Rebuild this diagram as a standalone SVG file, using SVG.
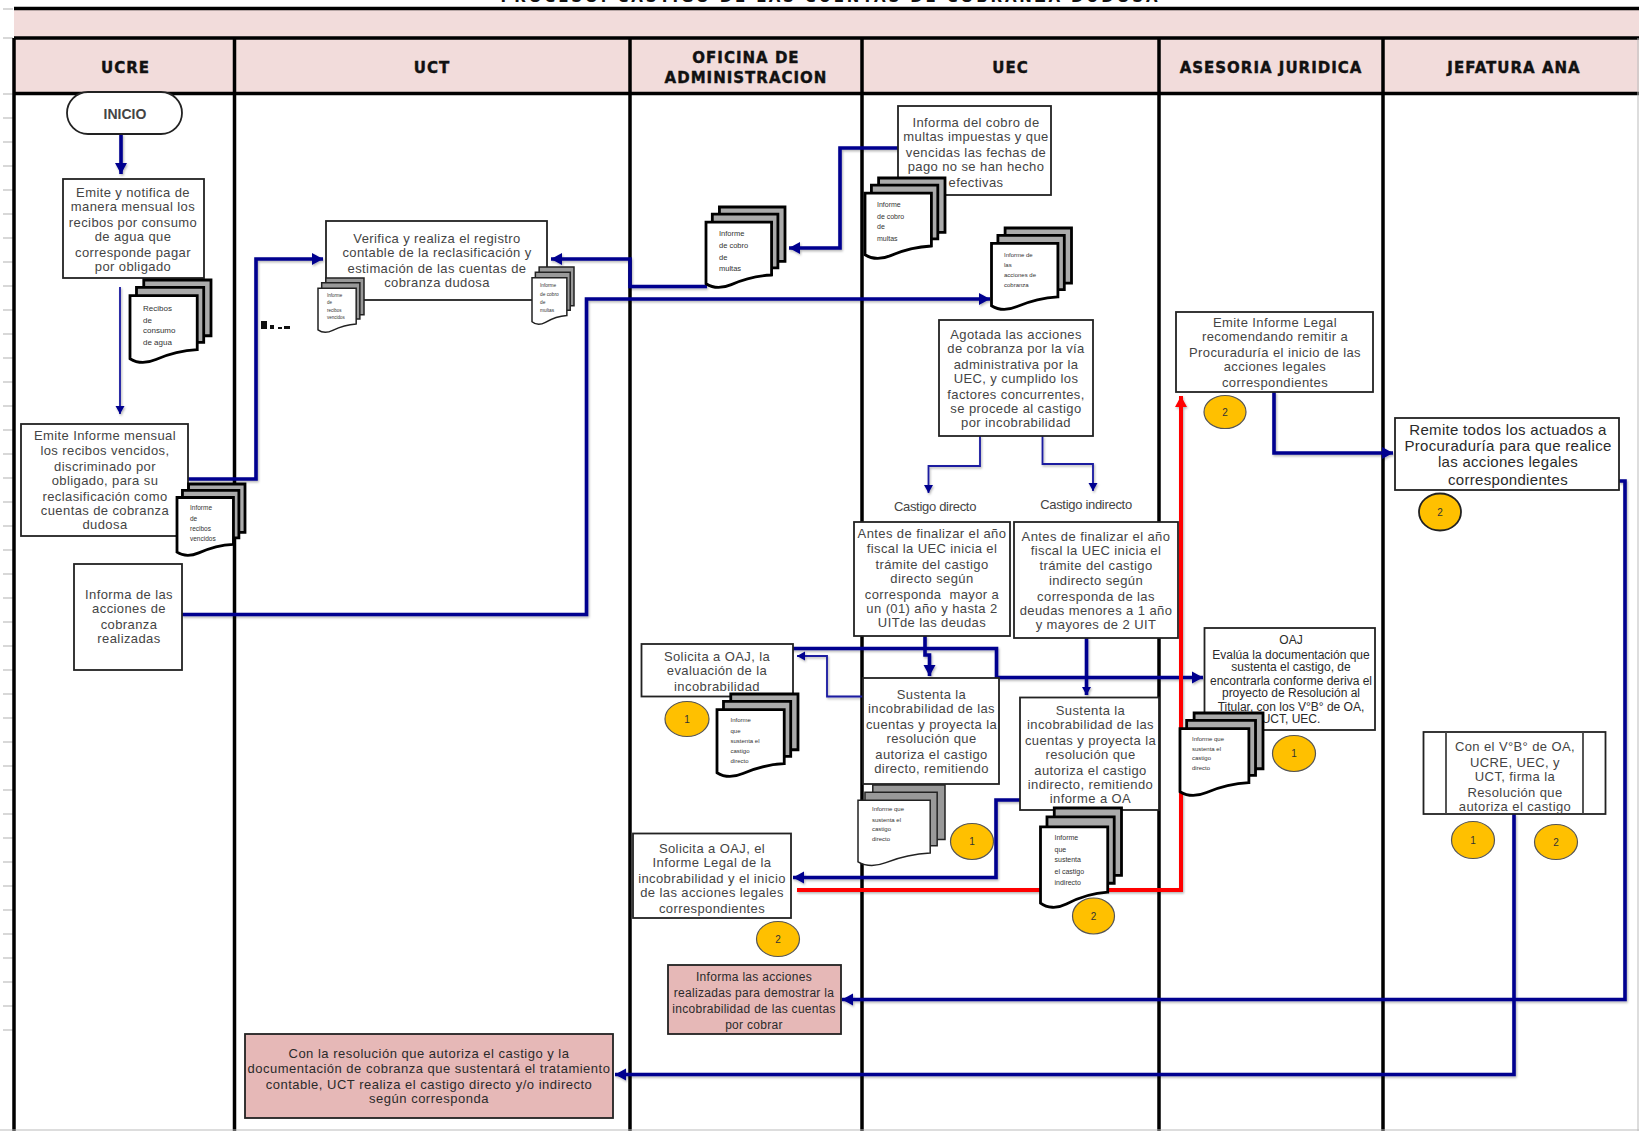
<svg xmlns="http://www.w3.org/2000/svg" xmlns:xlink="http://www.w3.org/1999/xlink" width="1639" height="1131" viewBox="0 0 1639 1131">
<style>
.lane{stroke:#000;stroke-width:3.5;fill:none}
.hdrband{fill:#f2dcdb}
.h{font-family:"DejaVu Sans",sans-serif;font-weight:bold;font-size:15px;letter-spacing:1px;fill:#111;stroke:#111;stroke-width:.4px;text-anchor:middle}
.box{fill:#fff;stroke:#222;stroke-width:1.8}
.pink{fill:#e6b8b7;stroke:#222;stroke-width:1.8}
.t{font-family:"Liberation Sans",Arial,sans-serif;font-size:13px;letter-spacing:.4px;fill:#444;text-anchor:middle}
.t2{font-size:15px;letter-spacing:.3px;fill:#2a2a2a}
.t3{font-size:12px;letter-spacing:.3px;fill:#2a2a2a}
.t4{font-size:12px;letter-spacing:0;fill:#2a2a2a}
.t5{font-size:13px;letter-spacing:.5px;fill:#2a2a2a}
.t6{font-size:13px;letter-spacing:-.3px}
.d{font-family:"Liberation Sans",Arial,sans-serif;fill:#333}
.c{fill:#ffc000;stroke:#555;stroke-width:1.2}
.cn{font-family:"Liberation Sans",Arial,sans-serif;font-size:10px;fill:#333;text-anchor:middle}
.docs{stroke:#000;stroke-width:2.8;fill:#aaa}
.docs2{stroke:#222;stroke-width:1.5;fill:#999}
.fl{fill:none;stroke:#00008f;stroke-width:3.6;stroke-linejoin:miter}
.th{fill:none;stroke:#1a1aa0;stroke-width:1.8}
.red{fill:none;stroke:#f00;stroke-width:4}
.tick{stroke:#ccc;stroke-width:1.5;fill:none}
</style>
<defs>
<marker id="a" markerUnits="userSpaceOnUse" markerWidth="14" markerHeight="16" refX="11" refY="7" orient="auto"><path d="M0,1 L11,7 L0,13 Z" fill="#00008f"/></marker>
<marker id="as" markerUnits="userSpaceOnUse" markerWidth="12" markerHeight="12" refX="8" refY="5" orient="auto"><path d="M0,0.5 L8,5 L0,9.5 Z" fill="#00008f"/></marker>
<marker id="ar" markerUnits="userSpaceOnUse" markerWidth="14" markerHeight="16" refX="11" refY="7" orient="auto"><path d="M0,1 L11,7 L0,13 Z" fill="#f00"/></marker>
<filter id="sh" x="-5%" y="-5%" width="110%" height="110%"><feDropShadow dx="1" dy="1.5" stdDeviation="1" flood-color="#000" flood-opacity=".3"/></filter>
<symbol id="doc" viewBox="0 0 100 100" preserveAspectRatio="none" overflow="visible">
<path vector-effect="non-scaling-stroke" d="M17,0 H100 V68 H17 Z"/>
<path vector-effect="non-scaling-stroke" d="M8,9 H91 V76 H8 Z"/>
<path vector-effect="non-scaling-stroke" fill="#fff" d="M0,19 H83 V85 C62,86 46,91 32,97 C20,102 8,101 0,96 Z"/>
</symbol>
</defs>
<g id="rule-ticks"><path class="tick" d="M3,9H13M3,38H13M3,94H13M3,118H13M3,142H13M3,166H13M3,190H13M3,214H13M3,238H13M3,262H13M3,286H13M3,310H13M3,334H13M3,358H13M3,382H13M3,406H13M3,430H13M3,454H13M3,478H13M3,502H13M3,526H13M3,550H13M3,574H13M3,598H13M3,622H13M3,646H13M3,670H13M3,694H13M3,718H13M3,742H13M3,766H13M3,790H13M3,814H13M3,838H13M3,862H13M3,886H13M3,910H13M3,934H13M3,958H13M3,982H13M3,1006H13M3,1030H13"/></g>
<g id="swimlanes">
<text x="829" y="2" font-family="DejaVu Sans, sans-serif" font-weight="bold" font-size="15" fill="#111" text-anchor="middle" textLength="657">PROCESO: CASTIGO DE LAS CUENTAS DE COBRANZA DUDOSA</text>
<rect class="hdrband" x="14" y="10" width="1625" height="27"/>
<rect class="hdrband" x="14" y="39" width="1625" height="54"/>
<path class="lane" d="M14,8.5H1639M14,38H1639M14,93.5H1639M14,38V1131M234.5,38V1131M630,38V1131M862,38V1131M1159,38V1131M1383,38V1131"/>
<path d="M0,1130H1639M1638,38V1131" stroke="#bbb" stroke-width="1" fill="none"/>
<text class="h" x="125.500" y="73">UCRE</text>
<text class="h" x="432" y="73">UCT</text>
<text class="h" x="746" y="63">OFICINA DE</text>
<text class="h" x="746" y="83">ADMINISTRACION</text>
<text class="h" x="1010.500" y="73">UEC</text>
<text class="h" x="1271" y="73">ASESORIA JURIDICA</text>
<text class="h" x="1514" y="73">JEFATURA ANA</text>
<path d="M261,321h6v8h-6zM270,325h4v4h-4zM278,327h4v2h-4zM284,326h6v3h-6z" fill="#111"/>
</g>
<g id="connectors" filter="url(#sh)">
<path class="fl" marker-end="url(#a)" d="M121,134V174"/>
<path class="th" marker-end="url(#as)" d="M120,287V414"/>
<path class="fl" marker-end="url(#a)" d="M188,479H256V259H323"/>
<path class="fl" marker-end="url(#a)" d="M707,286.500H630V259H551"/>
<path class="fl" marker-end="url(#a)" d="M898,148H840V248H789"/>
<path class="fl" marker-end="url(#a)" d="M182,614.500H586.500V299H990"/>
<path class="th" marker-end="url(#as)" d="M980,436V466H928.500V493"/>
<path class="th" marker-end="url(#as)" d="M1042.500,436V464H1093V491"/>
<path class="fl" marker-end="url(#a)" d="M925,636V655H929.500V676"/>
<path class="fl" marker-end="url(#as)" d="M1086.500,638V695"/>
<path class="fl" marker-end="url(#a)" d="M790,648.500H996.500V677.500H1203"/>
<path class="th" marker-end="url(#as)" d="M863,696.500H827V656H797"/>
<path class="fl" marker-end="url(#a)" d="M1020,800H996V877.500H793"/>
<path class="red" marker-end="url(#ar)" d="M797,890H1181V396"/>
<path class="fl" marker-end="url(#a)" d="M1274,392V453H1393"/>
<path class="fl" marker-end="url(#a)" d="M1619,481H1625V999.500H842"/>
<path class="fl" marker-end="url(#a)" d="M1514,814V1074.500H615"/>
</g>
<g id="n-inicio"><rect x="67" y="92" width="115" height="42" rx="21" ry="21" class="box"/><text class="t" x="125" y="119" font-weight="bold" style="font-size:14px;letter-spacing:0">INICIO</text></g>
<g id="n-emite"><rect class="box" x="63" y="179" width="141" height="99"/><text class="t"><tspan x="133" y="197">Emite y notifica de</tspan><tspan x="133" y="211">manera mensual los</tspan><tspan x="133" y="227">recibos por consumo</tspan><tspan x="133" y="241">de agua que</tspan><tspan x="133" y="257">corresponde pagar</tspan><tspan x="133" y="271">por obligado</tspan></text></g>
<g id="d-recibos"><use href="#doc" class="docs" x="130" y="280" width="81" height="82"/><text class="d" font-size="8"><tspan x="143" y="311">Recibos</tspan><tspan x="143" y="323">de</tspan><tspan x="143" y="333">consumo</tspan><tspan x="143" y="345">de agua</tspan></text></g>
<g id="n-informe-mensual"><rect class="box" x="21" y="424" width="167" height="112"/><text class="t"><tspan x="105" y="440">Emite Informe mensual</tspan><tspan x="105" y="455">los recibos vencidos,</tspan><tspan x="105" y="471">discriminado por</tspan><tspan x="105" y="485">obligado, para su</tspan><tspan x="105" y="501">reclasificación como</tspan><tspan x="105" y="515">cuentas de cobranza</tspan><tspan x="105" y="529">dudosa</tspan></text></g>
<g id="d-vencidos"><use href="#doc" class="docs" x="177" y="484" width="68" height="71"/><text class="d" font-size="6.500"><tspan x="190" y="510">Informe</tspan><tspan x="190" y="521">de</tspan><tspan x="190" y="531">recibos</tspan><tspan x="190" y="541">vencidos</tspan></text></g>
<g id="n-informa-acciones"><rect class="box" x="74" y="564" width="108" height="106"/><text class="t"><tspan x="129" y="599">Informa de las</tspan><tspan x="129" y="613">acciones de</tspan><tspan x="129" y="629">cobranza</tspan><tspan x="129" y="643">realizadas</tspan></text></g>
<g id="n-verifica"><rect class="box" x="326" y="221" width="221" height="79"/><text class="t"><tspan x="437" y="243">Verifica y realiza el registro</tspan><tspan x="437" y="257">contable de la reclasificación y</tspan><tspan x="437" y="273">estimación de las cuentas de</tspan><tspan x="437" y="287">cobranza dudosa</tspan></text></g>
<g id="d-uct-a"><use href="#doc" class="docs2" x="318" y="278" width="46" height="54"/><text class="d" font-size="4.500"><tspan x="327" y="297">Informe</tspan><tspan x="327" y="304">de</tspan><tspan x="327" y="312">recibos</tspan><tspan x="327" y="319">vencidos</tspan></text></g>
<g id="d-uct-b"><use href="#doc" class="docs2" x="532" y="267" width="42" height="57"/><text class="d" font-size="4.800"><tspan x="540" y="287">Informe</tspan><tspan x="540" y="296">de cobro</tspan><tspan x="540" y="304">de</tspan><tspan x="540" y="312">multas</tspan></text></g>
<g id="d-oa"><use href="#doc" class="docs" x="706" y="207" width="79" height="80"/><text class="d" font-size="7.500"><tspan x="719" y="236">Informe</tspan><tspan x="719" y="248">de cobro</tspan><tspan x="719" y="260">de</tspan><tspan x="719" y="271">multas</tspan></text></g>
<g id="n-informa-cobro"><rect class="box" x="898" y="106" width="153" height="89"/><text class="t"><tspan x="976" y="127">Informa del cobro de</tspan><tspan x="976" y="141">multas impuestas y que</tspan><tspan x="976" y="157">vencidas las fechas de</tspan><tspan x="976" y="171">pago no se han hecho</tspan><tspan x="976" y="187">efectivas</tspan></text></g>
<g id="d-uec-a"><use href="#doc" class="docs" x="865" y="178" width="80" height="80"/><text class="d" font-size="7"><tspan x="877" y="207">Informe</tspan><tspan x="877" y="219">de cobro</tspan><tspan x="877" y="229">de</tspan><tspan x="877" y="241">multas</tspan></text></g>
<g id="d-uec-b"><use href="#doc" class="docs" x="991.500" y="228" width="80" height="81"/><text class="d" font-size="6"><tspan x="1004" y="257">Informe de</tspan><tspan x="1004" y="267">las</tspan><tspan x="1004" y="277">acciones de</tspan><tspan x="1004" y="287">cobranza</tspan></text></g>
<g id="n-agotada"><rect class="box" x="939" y="320" width="154" height="116"/><text class="t"><tspan x="1016" y="339">Agotada las acciones</tspan><tspan x="1016" y="353">de cobranza por la vía</tspan><tspan x="1016" y="369">administrativa por la</tspan><tspan x="1016" y="383">UEC, y cumplido los</tspan><tspan x="1016" y="399">factores concurrentes,</tspan><tspan x="1016" y="413">se procede al castigo</tspan><tspan x="1016" y="427">por incobrabilidad</tspan></text></g>
<g id="l-directo"><text class="t t6" x="935" y="511">Castigo directo</text></g>
<g id="l-indirecto"><text class="t t6" x="1086" y="509">Castigo indirecto</text></g>
<g id="n-antes-directo"><rect class="box" x="854" y="522" width="156" height="114"/><text class="t" style="white-space:pre"><tspan x="932" y="538">Antes de finalizar el año</tspan><tspan x="932" y="553">fiscal la UEC inicia el</tspan><tspan x="932" y="569">trámite del castigo</tspan><tspan x="932" y="583">directo según</tspan><tspan x="932" y="599">corresponda  mayor a</tspan><tspan x="932" y="613">un (01) año y hasta 2</tspan><tspan x="932" y="627">UITde las deudas</tspan></text></g>
<g id="n-antes-indirecto"><rect class="box" x="1014" y="522" width="164" height="116"/><text class="t"><tspan x="1096" y="541">Antes de finalizar el año</tspan><tspan x="1096" y="555">fiscal la UEC inicia el</tspan><tspan x="1096" y="570">trámite del castigo</tspan><tspan x="1096" y="585">indirecto según</tspan><tspan x="1096" y="601">corresponda de las</tspan><tspan x="1096" y="615">deudas menores a 1 año</tspan><tspan x="1096" y="629">y mayores de 2 UIT</tspan></text></g>
<g id="n-solicita-1"><rect class="box" x="641.500" y="644" width="151.500" height="52.500"/><text class="t"><tspan x="717" y="661">Solicita a OAJ, la</tspan><tspan x="717" y="675">evaluación de la</tspan><tspan x="717" y="691">incobrabilidad</tspan></text></g>
<g id="c-oa-1"><ellipse class="c" cx="687" cy="719" rx="22" ry="17.500"/><text class="cn" x="687" y="723">1</text></g>
<g id="d-oa-2"><use href="#doc" class="docs" x="717" y="694" width="81" height="82"/><text class="d" font-size="6"><tspan x="730.500" y="722">Informe</tspan><tspan x="730.500" y="733">que</tspan><tspan x="730.500" y="743">sustenta el</tspan><tspan x="730.500" y="753">castigo</tspan><tspan x="730.500" y="763">directo</tspan></text></g>
<g id="n-sustenta-directo"><rect class="box" x="863" y="678" width="136" height="106"/><text class="t"><tspan x="931.500" y="699">Sustenta la</tspan><tspan x="931.500" y="713">incobrabilidad de las</tspan><tspan x="931.500" y="729">cuentas y proyecta la</tspan><tspan x="931.500" y="743">resolución que</tspan><tspan x="931.500" y="759">autoriza el castigo</tspan><tspan x="931.500" y="773">directo, remitiendo</tspan></text></g>
<g id="d-directo"><use href="#doc" class="docs2" x="858" y="785" width="87" height="80"/><text class="d" font-size="6"><tspan x="872" y="811">Informe que</tspan><tspan x="872" y="822">sustenta el</tspan><tspan x="872" y="831">castigo</tspan><tspan x="872" y="841">directo</tspan></text></g>
<g id="c-dir-1"><ellipse class="c" cx="972" cy="841.500" rx="21.500" ry="18"/><text class="cn" x="972" y="845">1</text></g>
<g id="n-sustenta-indirecto"><rect class="box" x="1020" y="697.500" width="139" height="112.500"/><text class="t"><tspan x="1090.500" y="715">Sustenta la</tspan><tspan x="1090.500" y="729">incobrabilidad de las</tspan><tspan x="1090.500" y="745">cuentas y proyecta la</tspan><tspan x="1090.500" y="759">resolución que</tspan><tspan x="1090.500" y="775">autoriza el castigo</tspan><tspan x="1090.500" y="789">indirecto, remitiendo</tspan><tspan x="1090.500" y="803">informe a OA</tspan></text></g>
<g id="d-indirecto"><use href="#doc" class="docs" x="1040.500" y="808" width="81" height="99"/><text class="d" font-size="7"><tspan x="1054.500" y="840">Informe</tspan><tspan x="1054.500" y="852">que</tspan><tspan x="1054.500" y="862">sustenta</tspan><tspan x="1054.500" y="874">el castigo</tspan><tspan x="1054.500" y="885">indirecto</tspan></text></g>
<g id="c-ind-2"><ellipse class="c" cx="1093.500" cy="916" rx="21" ry="18"/><text class="cn" x="1093.500" y="920">2</text></g>
<g id="n-solicita-2"><rect class="box" x="633" y="833.500" width="158" height="84.500"/><text class="t"><tspan x="712" y="853">Solicita a OAJ, el</tspan><tspan x="712" y="867">Informe Legal de la</tspan><tspan x="712" y="883">incobrabilidad y el inicio</tspan><tspan x="712" y="897">de las acciones legales</tspan><tspan x="712" y="913">correspondientes</tspan></text></g>
<g id="c-oa-2"><ellipse class="c" cx="778" cy="939" rx="21.500" ry="17.500"/><text class="cn" x="778" y="943">2</text></g>
<g id="n-informa-pink"><rect class="pink" x="668" y="965" width="173" height="69"/><text class="t t3"><tspan x="754" y="981">Informa las acciones</tspan><tspan x="754" y="997">realizadas para demostrar la</tspan><tspan x="754" y="1013">incobrabilidad de las cuentas</tspan><tspan x="754" y="1029">por cobrar</tspan></text></g>
<g id="n-resolucion"><rect class="pink" x="245" y="1034" width="368" height="84"/><text class="t t5"><tspan x="429" y="1058">Con la resolución que autoriza el castigo y la</tspan><tspan x="429" y="1073">documentación de cobranza que sustentará el tratamiento</tspan><tspan x="429" y="1089">contable, UCT realiza el castigo directo y/o indirecto</tspan><tspan x="429" y="1103">según corresponda</tspan></text></g>
<g id="n-emite-legal"><rect class="box" x="1176" y="312" width="197" height="80"/><text class="t"><tspan x="1275" y="327">Emite Informe Legal</tspan><tspan x="1275" y="341">recomendando remitir a</tspan><tspan x="1275" y="357">Procuraduría el inicio de las</tspan><tspan x="1275" y="371">acciones legales</tspan><tspan x="1275" y="387">correspondientes</tspan></text></g>
<g id="c-aj-2"><ellipse class="c" cx="1225" cy="412" rx="21" ry="16.500"/><text class="cn" x="1225" y="416">2</text></g>
<g id="n-oaj"><rect class="box" x="1204.500" y="628" width="170.500" height="102"/><text class="t t4"><tspan x="1291" y="644">OAJ</tspan><tspan x="1291" y="659">Evalúa la documentación que</tspan><tspan x="1291" y="671">sustenta el castigo, de</tspan><tspan x="1291" y="685">encontrarla conforme deriva el</tspan><tspan x="1291" y="697">proyecto de Resolución al</tspan><tspan x="1291" y="711">Titular, con los V°B° de OA,</tspan><tspan x="1291" y="723">UCT, UEC.</tspan></text></g>
<g id="d-oaj"><use href="#doc" class="docs" x="1180" y="713" width="83" height="82"/><text class="d" font-size="6"><tspan x="1192" y="741">Informe que</tspan><tspan x="1192" y="751">sustenta el</tspan><tspan x="1192" y="760">castigo</tspan><tspan x="1192" y="770">directo</tspan></text></g>
<g id="c-oaj-1"><ellipse class="c" cx="1294" cy="753.500" rx="21.500" ry="18"/><text class="cn" x="1294" y="757">1</text></g>
<g id="n-remite"><rect class="box" x="1395" y="418" width="224" height="72"/><text class="t t2"><tspan x="1508" y="435">Remite todos los actuados a</tspan><tspan x="1508" y="451">Procuraduría para que realice</tspan><tspan x="1508" y="467">las acciones legales</tspan><tspan x="1508" y="485">correspondientes</tspan></text></g>
<g id="c-j-2"><ellipse class="c" style="stroke:#222;stroke-width:1.800" cx="1440" cy="512" rx="21" ry="18.500"/><text class="cn" x="1440" y="516">2</text></g>
<g id="n-firma"><rect class="box" x="1423.500" y="732" width="182" height="82"/><path d="M1446,732V814M1583,732V814" stroke="#444" stroke-width="1.800"/><text class="t"><tspan x="1515" y="751">Con el V°B° de OA,</tspan><tspan x="1515" y="767">UCRE, UEC, y</tspan><tspan x="1515" y="781">UCT, firma la</tspan><tspan x="1515" y="797">Resolución que</tspan><tspan x="1515" y="811">autoriza el castigo</tspan></text></g>
<g id="c-f-1"><ellipse class="c" cx="1473" cy="840" rx="21.500" ry="18.500"/><text class="cn" x="1473" y="844">1</text></g>
<g id="c-f-2"><ellipse class="c" cx="1556" cy="842" rx="21.500" ry="17.500"/><text class="cn" x="1556" y="846">2</text></g>
</svg>
